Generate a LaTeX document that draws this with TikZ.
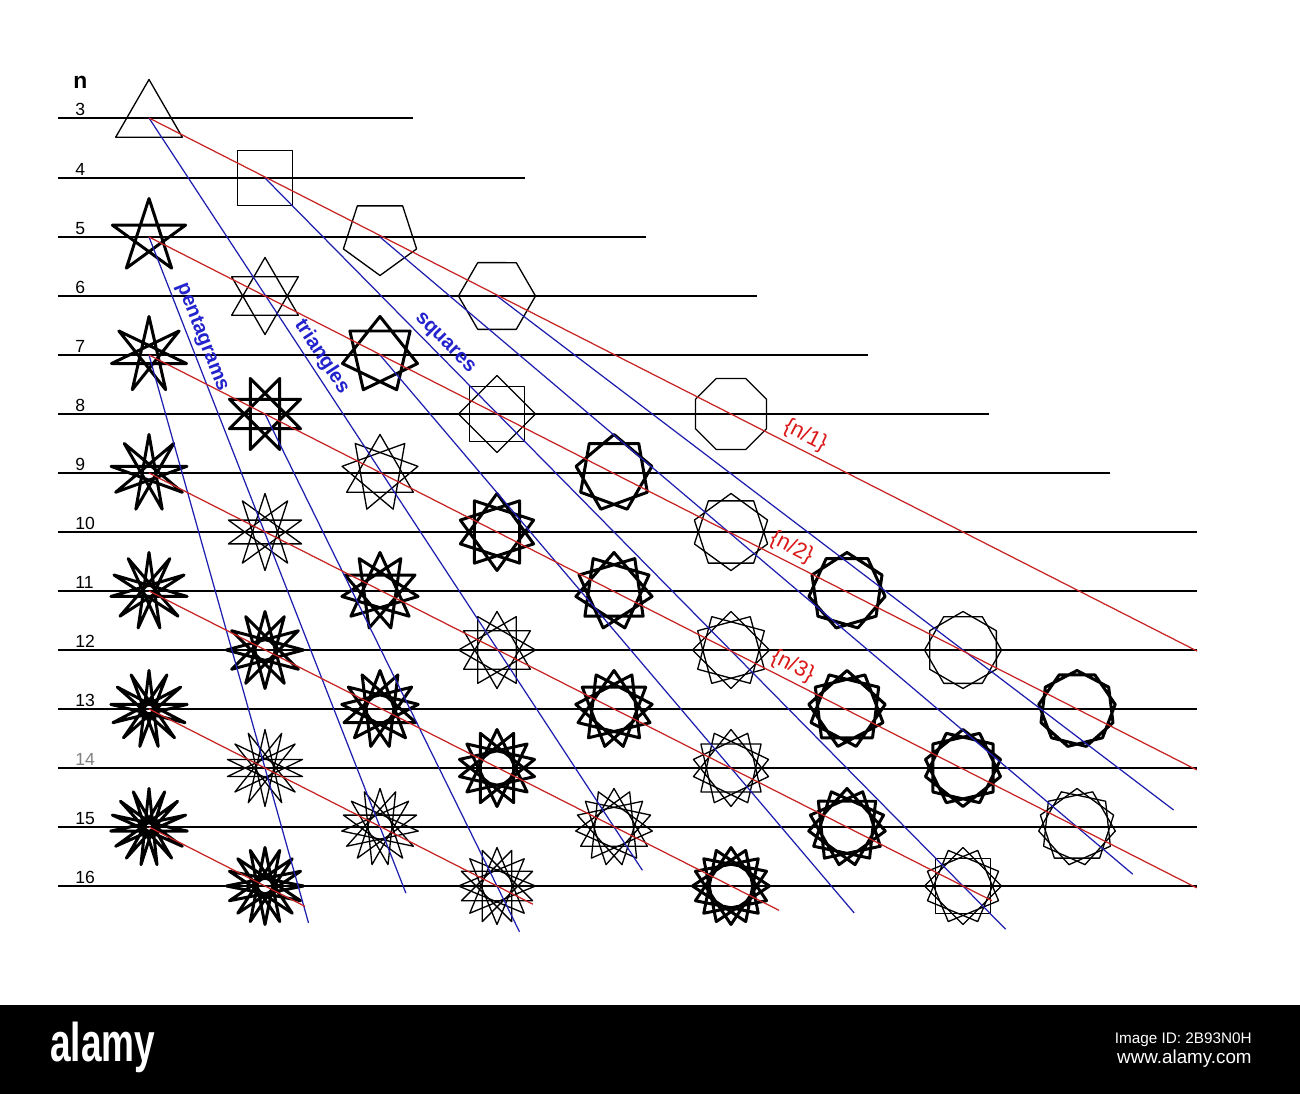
\documentclass[tikz,border=0pt]{standalone}
\usepackage{fontspec}
\setmainfont{Liberation Sans}
\usetikzlibrary{calc}
\definecolor{redline}{RGB}{200,35,35}
\definecolor{blueline}{RGB}{30,30,175}
\definecolor{bluetext}{RGB}{35,35,205}
\definecolor{redtext}{RGB}{220,25,25}
\newcommand{\rr}{38.5}
\newcommand{\sfigdraw}[6]{\coordinate (f#3-#4) at (#1,#2);
  \pgfmathtruncatemacro{\gd}{gcd(#3,#4)}
  \pgfmathtruncatemacro{\nm}{#3/\gd-1}
  \foreach \j in {1,...,\gd}{\draw[#6] ({#1+\rr*cos(#5+(\j-1)/#3*360)},{#2-\rr*sin(#5+(\j-1)/#3*360)})
    \foreach \i in {1,...,\nm}{ -- ({#1+\rr*cos(#5+(\j-1+\i*#4)/#3*360)},{#2-\rr*sin(#5+(\j-1+\i*#4)/#3*360)}) } -- cycle;}}
\newcommand{\sfig}[5]{\sfigdraw{#1}{#2}{#3}{#4}{#5}{thickline}}
\newcommand{\sfigw}[5]{\sfigdraw{#1}{#2}{#3}{#4}{#5}{thinline}}
\tikzset{
  thinline/.style={line width=0.75pt, line join=round},
  thickline/.style={line width=1.7pt, line join=round},
  rowline/.style={line width=0.9pt},
  redl/.style={redline, line width=0.7pt},
  bluel/.style={blueline, line width=0.7pt},
  bluelabel/.style={bluetext, font=\bfseries\fontsize{11.5}{13}\selectfont, sloped, above, inner sep=2pt},
  redlabel/.style={redtext, font=\fontsize{12.5}{14}\selectfont, sloped, above, inner sep=2pt},
  rownum/.style={anchor=base west, inner sep=0pt, font=\fontsize{10}{12}\selectfont}
}

\begin{document}
\begin{tikzpicture}[x=0.2mm, y=-0.2mm]
    \useasboundingbox (0,0) rectangle (1300,1094);
    \fill[white] (0,0) rectangle (1300,1094);

    \node[anchor=base west, inner sep=0pt, font=\bfseries\fontsize{13}{15}\selectfont] (nhead) at (73,89) {n};

    \draw[rowline] (58,118) -- (413,118);
    \draw[rowline] (58,178) -- (525,178);
    \draw[rowline] (58,237) -- (646,237);
    \draw[rowline] (58,296) -- (757,296);
    \draw[rowline] (58,355) -- (868,355);
    \draw[rowline] (58,414) -- (989,414);
    \draw[rowline] (58,473) -- (1110,473);
    \draw[rowline] (58,532) -- (1197,532);
    \draw[rowline] (58,591) -- (1197,591);
    \draw[rowline] (58,650) -- (1197,650);
    \draw[rowline] (58,709) -- (1197,709);
    \draw[rowline] (58,768) -- (1197,768);
    \draw[rowline] (58,827) -- (1197,827);
    \draw[rowline] (58,886) -- (1197,886);

    \node[rownum] (num3) at (75,115.5) {3};
    \node[rownum] (num4) at (75,175.5) {4};
    \node[rownum] (num5) at (75,234.5) {5};
    \node[rownum] (num6) at (75,293.5) {6};
    \node[rownum] (num7) at (75,352.5) {7};
    \node[rownum] (num8) at (75,411.5) {8};
    \node[rownum] (num9) at (75,470.5) {9};
    \node[rownum] (num10) at (75,529.5) {10};
    \node[rownum] (num11) at (75,588.5) {11};
    \node[rownum] (num12) at (75,647.5) {12};
    \node[rownum] (num13) at (75,706.5) {13};
    \node[rownum, gray] (num14) at (75,765.5) {14};
    \node[rownum] (num15) at (75,824.5) {15};
    \node[rownum] (num16) at (75,883.5) {16};

    \sfigw{149}{118}{3}{1}{90}

    \sfigw{265}{178}{4}{1}{135}

    \sfig{149}{237}{5}{2}{90}
    \sfigw{380}{237}{5}{1}{126}

    \sfigw{265}{296}{6}{2}{90}
    \sfigw{497}{296}{6}{1}{120}

    \sfig{149}{355}{7}{3}{90}
    \sfig{380}{355}{7}{2}{90}

    \sfig{265}{414}{8}{3}{112.5}
    \sfigw{497}{414}{8}{2}{90}
    \sfigw{731}{414}{8}{1}{112.5}

    \sfig{149}{473}{9}{4}{90}
    \sfigw{380}{473}{9}{3}{90}
    \sfig{614}{473}{9}{2}{90}

    \sfigw{265}{532}{10}{4}{90}
    \sfig{497}{532}{10}{3}{90}
    \sfigw{731}{532}{10}{2}{90}

    \sfig{149}{591}{11}{5}{90}
    \sfig{380}{591}{11}{4}{90}
    \sfig{614}{591}{11}{3}{90}
    \sfig{847}{591}{11}{2}{90}

    \sfig{265}{650}{12}{5}{90}
    \sfigw{497}{650}{12}{4}{90}
    \sfigw{731}{650}{12}{3}{90}
    \sfigw{963}{650}{12}{2}{90}

    \sfig{149}{709}{13}{6}{90}
    \sfig{380}{709}{13}{5}{90}
    \sfig{614}{709}{13}{4}{90}
    \sfig{847}{709}{13}{3}{90}
    \sfig{1077}{709}{13}{2}{90}

    \sfigw{265}{768}{14}{6}{90}
    \sfig{497}{768}{14}{5}{90}
    \sfigw{731}{768}{14}{4}{90}
    \sfig{963}{768}{14}{3}{90}

    \sfig{149}{827}{15}{7}{90}
    \sfigw{380}{827}{15}{6}{90}
    \sfigw{614}{827}{15}{5}{90}
    \sfig{847}{827}{15}{4}{90}
    \sfigw{1077}{827}{15}{3}{90}

    \sfig{265}{886}{16}{7}{90}
    \sfigw{497}{886}{16}{6}{90}
    \sfig{731}{886}{16}{5}{90}
    \sfigw{963}{886}{16}{4}{90}

    % line ends
    \coordinate (r1) at ($(f3-1)!1.8007!(f8-1)$);
    \coordinate (r2) at ($(f5-2)!1.129!(f13-2)$);
    \coordinate (r3) at ($(f7-3)!1.129!(f15-3)$);
    \coordinate (r4) at ($(f9-4)!1.0356!(f16-4)$);
    \coordinate (r5) at ($(f11-5)!1.0825!(f16-5)$);
    \coordinate (r6) at ($(f13-6)!1.103!(f16-6)$);
    \coordinate (r7) at ($(f15-7)!1.345!(f16-7)$);
    \coordinate (b-tri) at ($(f3-1)!1.061!(f15-5)$);
    \coordinate (b-sq) at ($(f4-1)!1.061!(f16-4)$);
    \coordinate (b-pg) at ($(f5-1)!1.080!(f15-3)$);
    \coordinate (b-hx) at ($(f6-1)!1.452!(f12-2)$);
    \coordinate (b-pent) at ($(f5-2)!1.112!(f15-6)$);
    \coordinate (b-hep3) at ($(f7-3)!1.375!(f14-6)$);
    \coordinate (b-hep2) at ($(f7-2)!1.351!(f14-4)$);
    \coordinate (b-oct3) at ($(f8-3)!1.097!(f16-6)$);

    \draw[bluel] (f3-1) -- node[bluelabel, pos=0.327] (ltri) {triangles} (b-tri);
    \draw[bluel] (f4-1) -- node[bluelabel, pos=0.231] (lsq) {squares} (b-sq);
    \draw[bluel] (f5-1) -- (b-pg);
    \draw[bluel] (f6-1) -- (b-hx);
    \draw[bluel] (f5-2) -- node[bluelabel, pos=0.16] (lpent) {pentagrams} (b-pent);
    \draw[bluel] (f7-3) -- (b-hep3);
    \draw[bluel] (f7-2) -- (b-hep2);
    \draw[bluel] (f8-3) -- (b-oct3);

    \draw[redl] (f3-1) -- node[redlabel, pos=0.62] (ln1) {\{n/1\}} (r1);
    \draw[redl] (f5-2) -- node[redlabel, pos=0.607] (ln2) {\{n/2\}} (r2);
    \draw[redl] (f7-3) -- node[redlabel, pos=0.608] (ln3) {\{n/3\}} (r3);
    \draw[redl] (f9-4) -- (r4);
    \draw[redl] (f11-5) -- (r5);
    \draw[redl] (f13-6) -- (r6);
    \draw[redl] (f15-7) -- (r7);

    \fill[black] (0,1005) rectangle (1300,1094);
    \node[anchor=base west, inner sep=0pt, white, font=\bfseries\fontsize{31}{31}\selectfont, xscale=0.68] (logo) at (50,1061) {alamy};
    \node[anchor=base east, inner sep=0pt, white, font=\fontsize{8.7}{10}\selectfont] (imgid) at (1252,1043) {Image ID: 2B93N0H};
    \node[anchor=base east, inner sep=0pt, white, font=\fontsize{10.7}{12}\selectfont] (web) at (1252,1063) {www.alamy.com};
    \end{tikzpicture}
\end{document}
